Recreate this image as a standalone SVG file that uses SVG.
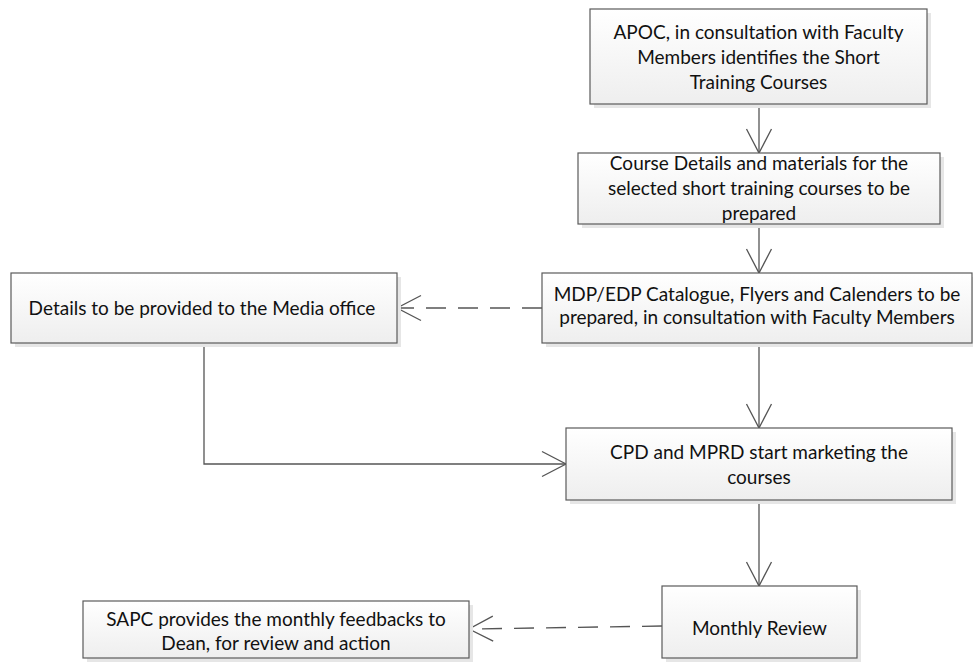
<svg xmlns="http://www.w3.org/2000/svg" width="973" height="669" viewBox="0 0 973 669">
  <style>
    .box { fill: url(#boxFill); stroke: #5a5a5a; stroke-width: 1.2; }
    .shadow { fill: #e6e6e6; }
    .label { font-family: Lato, "Liberation Sans", sans-serif; font-size: 19px; fill: #111; text-anchor: middle; }
    .link { fill: none; stroke: #555; stroke-width: 1.3; }
    .dashed { stroke-dasharray: 20 12; }
  </style>
  <defs>
    <linearGradient id="boxFill" x1="0" y1="0" x2="0" y2="1">
      <stop offset="0" stop-color="#ffffff"/>
      <stop offset="1" stop-color="#eeeeee"/>
    </linearGradient>
    <marker id="openArrow" markerUnits="userSpaceOnUse" markerWidth="26" markerHeight="27" refX="24" refY="12.5" orient="auto" overflow="visible">
      <path d="M0,0 L24,12.5 L0,25" fill="none" stroke="#555" stroke-width="1.3"/>
    </marker>
  </defs>

  <!-- connectors -->
  <g id="connectors">
    <path class="link" d="M759,104 L759,153" marker-end="url(#openArrow)"/>
    <path class="link" d="M759,224 L759,273" marker-end="url(#openArrow)"/>
    <path class="link dashed" d="M542,308 L397,308" marker-end="url(#openArrow)"/>
    <path class="link" d="M759,343 L759,428" marker-end="url(#openArrow)"/>
    <path class="link" d="M204,343 L204,464 L566,464" marker-end="url(#openArrow)"/>
    <path class="link" d="M759,500 L759,586" marker-end="url(#openArrow)"/>
    <path class="link dashed" d="M662,626 L469,629" marker-end="url(#openArrow)"/>
  </g>

  <g id="identify">
    <rect class="shadow" x="594" y="13" width="337" height="95"/>
    <rect class="box" x="590" y="9" width="337" height="95"/>
    <text class="label" x="758.5" y="39">APOC, in consultation with Faculty</text>
    <text class="label" x="758.5" y="64">Members identifies the Short</text>
    <text class="label" x="758.5" y="89">Training Courses</text>
  </g>

  <g id="prepare-details">
    <rect class="shadow" x="582" y="157" width="362" height="71"/>
    <rect class="box" x="578" y="153" width="362" height="71"/>
    <text class="label" x="759" y="170">Course Details and materials for the</text>
    <text class="label" x="759" y="195">selected short training courses to be</text>
    <text class="label" x="759" y="220">prepared</text>
  </g>

  <g id="media-office">
    <rect class="shadow" x="15" y="277" width="386" height="70"/>
    <rect class="box" x="11" y="273" width="386" height="70"/>
    <text class="label" x="202" y="315">Details to be provided to the Media office</text>
  </g>

  <g id="catalogue">
    <rect class="shadow" x="546" y="277" width="430" height="70"/>
    <rect class="box" x="542" y="273" width="430" height="70"/>
    <text class="label" x="757" y="301">MDP/EDP Catalogue, Flyers and Calenders to be</text>
    <text class="label" x="757" y="324">prepared, in consultation with Faculty Members</text>
  </g>

  <g id="marketing">
    <rect class="shadow" x="570" y="432" width="386" height="72"/>
    <rect class="box" x="566" y="428" width="386" height="72"/>
    <text class="label" x="759" y="459">CPD and MPRD start marketing the</text>
    <text class="label" x="759" y="484">courses</text>
  </g>

  <g id="monthly-review">
    <rect class="shadow" x="666" y="590" width="195" height="72"/>
    <rect class="box" x="662" y="586" width="195" height="72"/>
    <text class="label" x="759.5" y="635">Monthly Review</text>
  </g>

  <g id="feedback">
    <rect class="shadow" x="87" y="605" width="386" height="57"/>
    <rect class="box" x="83" y="601" width="386" height="57"/>
    <text class="label" x="276" y="626">SAPC provides the monthly feedbacks to</text>
    <text class="label" x="276" y="650">Dean, for review and action</text>
  </g>
</svg>
